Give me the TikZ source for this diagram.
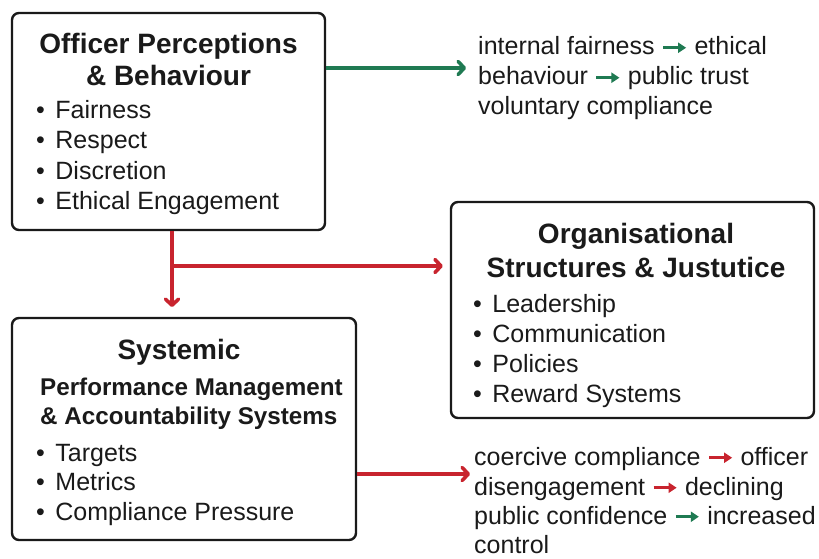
\documentclass[tikz,border=0pt]{standalone}
\usepackage{fontspec}
\setmainfont{Liberation Sans}
\usetikzlibrary{arrows.meta}

\definecolor{fairgreen}{RGB}{31,122,82}
\definecolor{pressred}{RGB}{200,36,46}
\definecolor{ink}{RGB}{26,26,26}

\tikzset{
  panel/.style={draw=ink, line width=2.4pt, rounded corners=7pt, fill=white, inner sep=0pt},
  heading/.style={font=\fontsize{28}{32}\selectfont\bfseries, text=ink, inner sep=0pt, anchor=base},
  subheading/.style={font=\fontsize{24.2}{29}\selectfont\bfseries, text=ink, inner sep=0pt, anchor=base west},
  item/.style={font=\fontsize{25}{30}\selectfont, text=ink, inner sep=0pt, anchor=base west},
  flowgreen/.style={draw=fairgreen, line width=3.6pt, -{Straight Barb[round,length=6pt,width=13pt]}},
  flowred/.style={draw=pressred, line width=3.6pt, -{Straight Barb[round,length=6pt,width=13pt]}}
}

\newcommand{\bul}{•\hspace{0.42em}}
\newcommand{\greento}{\tikz[baseline=-0.55ex]\draw[fairgreen, line width=3pt, -{Triangle[length=8pt,width=10pt]}] (0pt,0pt) -- (23pt,0pt);}
\newcommand{\redto}{\tikz[baseline=-0.55ex]\draw[pressred, line width=3pt, -{Triangle[length=8pt,width=10pt]}] (0pt,0pt) -- (23pt,0pt);}

\begin{document}
\begin{tikzpicture}[x=1pt, y=-1pt]

\useasboundingbox[fill=white] (0,0) rectangle (819,559);

% boxes
\node[panel, minimum width=313pt, minimum height=217pt] (officer) at (168.5,121.5) {};
\node[panel, minimum width=363pt, minimum height=216pt] (org) at (632.5,310) {};
\node[panel, minimum width=344pt, minimum height=222pt] (sys) at (184,429) {};

% officer perceptions
\node[heading] (officer-t1) at (168.5,54) {Officer Perceptions};
\node[heading] (officer-t2) at (168.5,86) {\& Behaviour};
\node[item] (officer-i1) at (36,119) {\bul Fairness};
\node[item] (officer-i2) at (36,149) {\bul Respect};
\node[item] (officer-i3) at (36,179) {\bul Discretion};
\node[item] (officer-i4) at (36,209) {\bul Ethical Engagement};

% organisational structures
\node[heading] (org-t1) at (636,243) {Organisational};
\node[heading] (org-t2) at (636,277) {Structures \& Justutice};
\node[item] (org-i1) at (473,312) {\bul Leadership};
\node[item] (org-i2) at (473,342) {\bul Communication};
\node[item] (org-i3) at (473,372) {\bul Policies};
\node[item] (org-i4) at (473,402) {\bul Reward Systems};

% systemic
\node[heading] (sys-t1) at (179,359) {Systemic};
\node[subheading] (sys-s1) at (40,395) {Performance Management};
\node[subheading] (sys-s2) at (40,424) {\& Accountability Systems};
\node[item] (sys-i1) at (36,461) {\bul Targets};
\node[item] (sys-i2) at (36,490) {\bul Metrics};
\node[item] (sys-i3) at (36,520) {\bul Compliance Pressure};

% outcomes
\node[item] (good-1) at (478,55) {internal fairness \greento{} ethical};
\node[item] (good-2) at (478,85) {behaviour \greento{} public trust};
\node[item] (good-3) at (478,115) {voluntary compliance};
\node[item] (bad-1) at (474,465) {coercive compliance \redto{} officer};
\node[item] (bad-2) at (474,495) {disengagement \redto{} declining};
\node[item] (bad-3) at (474,524) {public confidence \greento{} increased};
\node[item] (bad-4) at (474,553) {control};

% connectors
\coordinate (gtip) at (466,68);
\coordinate (split) at (172,266);
\coordinate (down) at (172,307);
\coordinate (rtip) at (470,474);

\draw[flowgreen] (officer.east |- gtip) -- (gtip);
\draw[flowred] (officer.south -| split) -- (down);
\draw[flowred, shorten >=7pt] (split) -- (org.west |- split);
\draw[flowred] (sys.east |- rtip) -- (rtip);
\end{tikzpicture}
\end{document}
